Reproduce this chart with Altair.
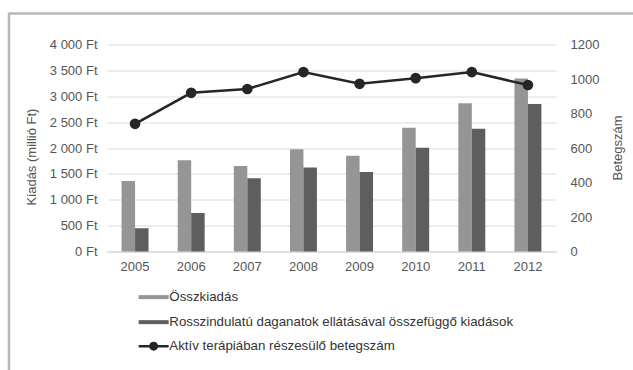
import altair as alt
import pandas as pd

years = ["2005", "2006", "2007", "2008", "2009", "2010", "2011", "2012"]
osszkiadas = [1360, 1765, 1650, 1975, 1850, 2390, 2865, 3345]
rosszindulatu = [450, 745, 1415, 1625, 1535, 2005, 2370, 2850]
betegszam = [740, 920, 942, 1040, 972, 1005, 1040, 965]

s1 = "Összkiadás"
s2 = "Rosszindulatú daganatok ellátásával összefüggő kiadások"
s3 = "Aktív terápiában részesülő betegszám"

bars_df = pd.DataFrame(
    [{"year": y, "series": s1, "value": v} for y, v in zip(years, osszkiadas)]
    + [{"year": y, "series": s2, "value": v} for y, v in zip(years, rosszindulatu)]
)
line_df = pd.DataFrame({"year": years, "count": betegszam, "series": [s3] * len(years)})

FONT = "Liberation Sans"
TXT = "#555555"

xscale = alt.Scale(paddingInner=0.52, paddingOuter=0.26)
xaxis = alt.Axis(title=None, labelFontSize=13, labelColor=TXT, labelFont=FONT,
                 labelPadding=9, ticks=False, domainColor="#d0d0d0", labelAngle=0)

rect_path = "M-3,-0.4H3V0.4H-3Z"
line_path = "M-3,0H3M0.65,0A0.65,0.65 0 1,1 -0.65,0A0.65,0.65 0 1,1 0.65,0Z"

bars = alt.Chart(bars_df).mark_bar().encode(
    x=alt.X("year:N", scale=xscale, axis=xaxis),
    xOffset=alt.XOffset("series:N", sort=[s1, s2]),
    y=alt.Y("value:Q", scale=alt.Scale(domain=[0, 4000]),
            axis=alt.Axis(values=list(range(0, 4001, 500)),
                          labelExpr="replace(format(datum.value, ',d'), ',', ' ') + ' Ft'",
                          title="Kiadás (millió Ft)", titleFontSize=13, titleFont=FONT,
                          titleColor=TXT, titleFontWeight="normal",
                          titleX=-76, titleY=112, titleAngle=270,
                          titleAlign="center", titleBaseline="middle",
                          labelFontSize=13, labelFont=FONT, labelColor=TXT,
                          labelPadding=10, ticks=False, domain=False,
                          grid=True, gridColor="#dcdcdc", gridWidth=1)),
    color=alt.Color("series:N", sort=[s1, s2],
                    scale=alt.Scale(domain=[s1, s2], range=["#959595", "#5e5e5e"]),
                    legend=alt.Legend(title=None, orient="none", legendX=40, legendY=246,
                                      direction="vertical", symbolType=rect_path,
                                      symbolSize=100, symbolStrokeWidth=0,
                                      labelFont=FONT, labelFontSize=13.3, labelColor="#333333",
                                      labelLimit=0, labelOffset=9, rowPadding=11, padding=0)),
)

line = alt.Chart(line_df).mark_line(strokeWidth=2.5, point=alt.OverlayMarkDef(filled=True, size=75, color="#262626")).encode(
    x=alt.X("year:N", scale=xscale, axis=xaxis),
    y=alt.Y("count:Q", scale=alt.Scale(domain=[0, 1200]),
            axis=alt.Axis(orient="right", values=list(range(0, 1201, 200)), format="d",
                          title="Betegszám", titleFontSize=13, titleFont=FONT,
                          titleColor=TXT, titleFontWeight="normal",
                          titleX=61, titleY=103, titleAngle=270,
                          titleAlign="center", titleBaseline="middle",
                          labelFontSize=13, labelFont=FONT, labelColor=TXT,
                          labelPadding=14, ticks=False, domain=False, grid=False)),
    stroke=alt.Stroke("series:N", scale=alt.Scale(domain=[s3], range=["#262626"]),
                      legend=alt.Legend(title=None, orient="none", legendX=40, legendY=295,
                                        symbolType=line_path, symbolSize=100,
                                        symbolStrokeWidth=2.5, symbolFillColor="#262626",
                                        labelFont=FONT, labelFontSize=13.3, labelColor="#333333",
                                        labelLimit=0, labelOffset=9, padding=0)),
)

frame_df = pd.DataFrame({"k": [0]})
top_rule = alt.Chart(frame_df).mark_rule(color="#b8b8b8", strokeWidth=2.5).encode(
    x=alt.value(-98), x2=alt.value(526), y=alt.value(-31))
left_rule = alt.Chart(frame_df).mark_rule(color="#b8b8b8", strokeWidth=2.5).encode(
    x=alt.value(-98), y=alt.value(-32), y2=alt.value(326))

chart = alt.layer(bars, line, top_rule, left_rule).resolve_scale(
    y="independent", color="independent", stroke="independent"
).properties(
    width=449, height=207,
    padding={"left": 107, "top": 44.5, "right": 77, "bottom": 118.5},
    autosize=alt.AutoSizeParams(type="none"),
    background="white",
).configure_view(stroke=None)

chart.save("out.html", embed_options={"renderer": "svg", "actions": False})
